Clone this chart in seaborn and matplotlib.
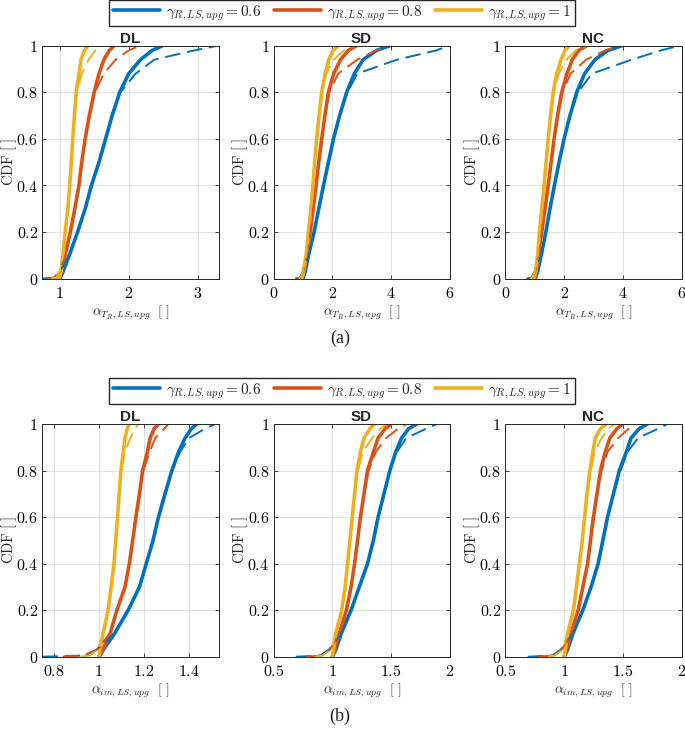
import numpy as np
import seaborn as sns
import matplotlib.pyplot as plt
from matplotlib.ticker import FuncFormatter, FixedLocator
from matplotlib.lines import Line2D

sns.set_style("ticks")
plt.rcParams['mathtext.fontset'] = 'cm'
plt.rcParams['font.family'] = ['DejaVu Sans']

cdf_levels = [0, 0.005, 0.03, 0.1, 0.2, 0.3, 0.4, 0.5, 0.6, 0.7, 0.8, 0.88, 0.94, 0.98, 1.0]
gamma_labels = ["0.6", "0.8", "1"]
colors = ["#0072BD", "#D95319", "#EDB120"]
panel_names = ["DL", "SD", "NC"]

# (a) alpha_TR,LS,upg  -- rows: gamma 0.6 / 0.8 / 1
tr_dl_solid = [[1.00, 1.01, 1.05, 1.14, 1.26, 1.37, 1.46, 1.57, 1.665, 1.76, 1.87, 2.00, 2.17, 2.34, 2.49],
               [0.98, 0.99, 1.03, 1.08, 1.155, 1.22, 1.28, 1.32, 1.37, 1.43, 1.50, 1.57, 1.64, 1.72, 1.79],
               [0.99, 1.00, 1.02, 1.05, 1.08, 1.12, 1.146, 1.17, 1.19, 1.215, 1.24, 1.28, 1.31, 1.36, 1.41]]
tr_dl_dashed = [[0.75, 0.92, 1.00, 1.14, 1.26, 1.37, 1.46, 1.57, 1.665, 1.76, 1.88, 2.10, 2.37, 2.95, 3.29],
                [0.82, 0.93, 1.00, 1.08, 1.155, 1.22, 1.28, 1.32, 1.37, 1.43, 1.51, 1.64, 1.81, 2.00, 2.17],
                [0.88, 0.95, 1.00, 1.05, 1.08, 1.12, 1.146, 1.17, 1.19, 1.215, 1.25, 1.32, 1.42, 1.52, 1.59]]
tr_sd_solid = [[1.00, 1.02, 1.08, 1.19, 1.38, 1.54, 1.70, 1.87, 2.04, 2.25, 2.49, 2.75, 3.05, 3.51, 3.96],
               [0.96, 0.98, 1.03, 1.13, 1.25, 1.35, 1.45, 1.54, 1.64, 1.75, 1.87, 2.05, 2.28, 2.55, 2.83],
               [0.95, 0.97, 1.02, 1.11, 1.19, 1.27, 1.34, 1.40, 1.47, 1.55, 1.64, 1.76, 1.88, 2.03, 2.21]]
tr_sd_dashed = [[0.74, 0.90, 1.00, 1.19, 1.38, 1.54, 1.70, 1.87, 2.04, 2.25, 2.52, 2.85, 4.20, 5.55, 5.95],
                [0.80, 0.92, 1.00, 1.13, 1.25, 1.35, 1.45, 1.54, 1.64, 1.75, 1.90, 2.20, 2.85, 3.50, 3.96],
                [0.85, 0.92, 1.00, 1.11, 1.19, 1.27, 1.34, 1.40, 1.47, 1.55, 1.66, 1.80, 2.05, 2.40, 2.75]]
tr_nc_solid = [[1.01, 1.03, 1.10, 1.22, 1.38, 1.52, 1.67, 1.83, 2.00, 2.20, 2.43, 2.70, 3.05, 3.50, 3.98],
               [0.98, 1.00, 1.05, 1.13, 1.24, 1.35, 1.46, 1.56, 1.66, 1.78, 1.92, 2.10, 2.28, 2.50, 2.77],
               [0.96, 0.98, 1.03, 1.10, 1.16, 1.24, 1.32, 1.39, 1.46, 1.54, 1.63, 1.75, 1.90, 2.03, 2.18]]
tr_nc_dashed = [[0.72, 0.90, 1.00, 1.22, 1.38, 1.52, 1.67, 1.83, 2.00, 2.20, 2.47, 2.95, 4.30, 5.30, 5.94],
                [0.80, 0.92, 1.00, 1.13, 1.24, 1.35, 1.46, 1.56, 1.66, 1.78, 1.95, 2.22, 2.75, 3.40, 3.96],
                [0.85, 0.92, 1.00, 1.10, 1.16, 1.24, 1.32, 1.39, 1.46, 1.54, 1.65, 1.82, 2.08, 2.40, 2.77]]

# (b) alpha_im,LS,upg
im_dl_solid = [[1.00, 1.005, 1.02, 1.07, 1.13, 1.18, 1.21, 1.24, 1.264, 1.293, 1.323, 1.353, 1.382, 1.41, 1.434],
               [1.00, 1.005, 1.017, 1.05, 1.08, 1.116, 1.135, 1.15, 1.164, 1.18, 1.194, 1.215, 1.227, 1.245, 1.264],
               [1.00, 1.002, 1.004, 1.019, 1.041, 1.055, 1.067, 1.075, 1.083, 1.09, 1.098, 1.108, 1.116, 1.126, 1.135]]
im_dl_dashed = [[0.75, 0.93, 0.99, 1.07, 1.13, 1.18, 1.21, 1.24, 1.264, 1.293, 1.325, 1.36, 1.40, 1.47, 1.516],
                [0.84, 0.94, 0.99, 1.05, 1.08, 1.116, 1.135, 1.15, 1.164, 1.18, 1.197, 1.225, 1.25, 1.29, 1.308],
                [0.92, 0.96, 0.995, 1.019, 1.041, 1.055, 1.067, 1.075, 1.083, 1.09, 1.10, 1.115, 1.14, 1.16, 1.175]]
im_sd_solid = [[1.00, 1.005, 1.03, 1.077, 1.16, 1.23, 1.30, 1.35, 1.39, 1.44, 1.49, 1.54, 1.59, 1.65, 1.72],
               [1.00, 1.005, 1.02, 1.06, 1.12, 1.16, 1.19, 1.215, 1.24, 1.27, 1.30, 1.35, 1.39, 1.45, 1.50],
               [1.00, 1.002, 1.01, 1.03, 1.08, 1.11, 1.13, 1.15, 1.17, 1.19, 1.21, 1.24, 1.27, 1.32, 1.36]]
im_sd_dashed = [[0.69, 0.90, 0.97, 1.077, 1.16, 1.23, 1.30, 1.35, 1.39, 1.44, 1.49, 1.55, 1.63, 1.80, 1.89],
                [0.78, 0.90, 0.98, 1.06, 1.12, 1.16, 1.19, 1.215, 1.24, 1.27, 1.31, 1.37, 1.46, 1.56, 1.63],
                [0.85, 0.92, 0.99, 1.03, 1.08, 1.11, 1.13, 1.15, 1.17, 1.19, 1.22, 1.26, 1.34, 1.41, 1.46]]
im_nc_solid = [[1.00, 1.005, 1.03, 1.076, 1.16, 1.23, 1.29, 1.33, 1.37, 1.42, 1.47, 1.53, 1.57, 1.64, 1.71],
               [1.00, 1.005, 1.02, 1.06, 1.12, 1.16, 1.20, 1.225, 1.25, 1.28, 1.31, 1.35, 1.39, 1.45, 1.50],
               [1.00, 1.002, 1.01, 1.03, 1.08, 1.105, 1.13, 1.155, 1.175, 1.195, 1.22, 1.245, 1.265, 1.31, 1.36]]
im_nc_dashed = [[0.69, 0.90, 0.97, 1.076, 1.16, 1.23, 1.29, 1.33, 1.37, 1.42, 1.48, 1.54, 1.63, 1.80, 1.88],
                [0.78, 0.90, 0.98, 1.06, 1.12, 1.16, 1.20, 1.225, 1.25, 1.28, 1.32, 1.37, 1.46, 1.55, 1.61],
                [0.86, 0.92, 0.99, 1.03, 1.08, 1.105, 1.13, 1.155, 1.175, 1.195, 1.23, 1.26, 1.32, 1.38, 1.43]]

W, H = 685, 729
fig = plt.figure(figsize=(W / 100, H / 100), dpi=100)

col_left = [42.3, 273.5, 505.3]
col_width = 176.3


def fmt(v, pos):
    return r'$%g$' % round(v, 3)


def draw_panel(rect, solid, dashed, xlim, xticks, xlabel, title):
    ax = fig.add_axes(rect)
    for k in range(3):
        sns.lineplot(x=solid[k], y=cdf_levels, ax=ax, color=colors[k], lw=2.6,
                     sort=False, estimator=None)
    for k in range(3):
        sns.lineplot(x=dashed[k], y=cdf_levels, ax=ax, color=colors[k], lw=1.4,
                     sort=False, estimator=None, linestyle=(0, (8, 3.5)))
    ax.set_xlim(xlim)
    ax.set_ylim(0, 1)
    ax.xaxis.set_major_locator(FixedLocator(xticks))
    ax.yaxis.set_major_locator(FixedLocator([0, 0.2, 0.4, 0.6, 0.8, 1]))
    ax.xaxis.set_major_formatter(FuncFormatter(fmt))
    ax.yaxis.set_major_formatter(FuncFormatter(fmt))
    ax.tick_params(direction='in', top=True, right=True, length=3, width=0.6,
                   labelsize=11.5, colors='#262626', labelcolor='black')
    ax.tick_params(axis='x', pad=5.5)
    ax.tick_params(axis='y', pad=3)
    ax.grid(True, color='#dcdcdc', lw=0.6)
    ax.set_axisbelow(True)
    for s in ax.spines.values():
        s.set_color('#262626')
        s.set_linewidth(0.7)
    ax.set_title(title, fontweight='bold', fontsize=11, pad=2,
                 family=['Liberation Sans', 'DejaVu Sans'])
    ax.set_xlabel(xlabel, fontsize=10, labelpad=2)
    ax.set_ylabel(r'$\mathrm{CDF}\ [\ ]$', fontsize=10.5)
    ax.yaxis.set_label_coords(-0.133, 0.5)
    return ax


tr_panels = [(tr_dl_solid, tr_dl_dashed, (0.75, 3.3), [1, 2, 3]),
             (tr_sd_solid, tr_sd_dashed, (0, 6), [0, 2, 4, 6]),
             (tr_nc_solid, tr_nc_dashed, (0, 6), [0, 2, 4, 6])]
im_panels = [(im_dl_solid, im_dl_dashed, (0.75, 1.53), [0.8, 1, 1.2, 1.4]),
             (im_sd_solid, im_sd_dashed, (0.5, 2), [0.5, 1, 1.5, 2]),
             (im_nc_solid, im_nc_dashed, (0.5, 2), [0.5, 1, 1.5, 2])]

top_bottom = (H - 278.7) / H
top_height = 233 / H
bot_bottom = (H - 656.7) / H
bot_height = 232.7 / H

for i, (s, d, xl, xt) in enumerate(tr_panels):
    draw_panel([col_left[i] / W, top_bottom, col_width / W, top_height], s, d, xl, xt,
               r'$\alpha_{T_R,LS,upg}\ \ [\ ]$', panel_names[i])
for i, (s, d, xl, xt) in enumerate(im_panels):
    draw_panel([col_left[i] / W, bot_bottom, col_width / W, bot_height], s, d, xl, xt,
               r'$\alpha_{im,LS,upg}\ \ [\ ]$', panel_names[i])

handles = [Line2D([], [], color=c, lw=2.6) for c in colors]
labels = [r'$\gamma_{R,LS,upg} = %s$' % g for g in gamma_labels]
for yc in [13, 391]:
    fig.legend(handles, labels, loc='center', bbox_to_anchor=(342 / W, 1 - yc / H),
               ncol=3, frameon=True, fancybox=False, edgecolor='#262626',
               fontsize=11, handlelength=3.1, columnspacing=0.8, handletextpad=0.4,
               borderpad=0.25, framealpha=1)

fig.text(340 / W, 1 - 338 / H, '(a)', ha='center', va='center', fontsize=13,
         family='Liberation Serif')
fig.text(340 / W, 1 - 716 / H, '(b)', ha='center', va='center', fontsize=13,
         family='Liberation Serif')

fig.savefig('out.png', dpi=100, facecolor='white')
